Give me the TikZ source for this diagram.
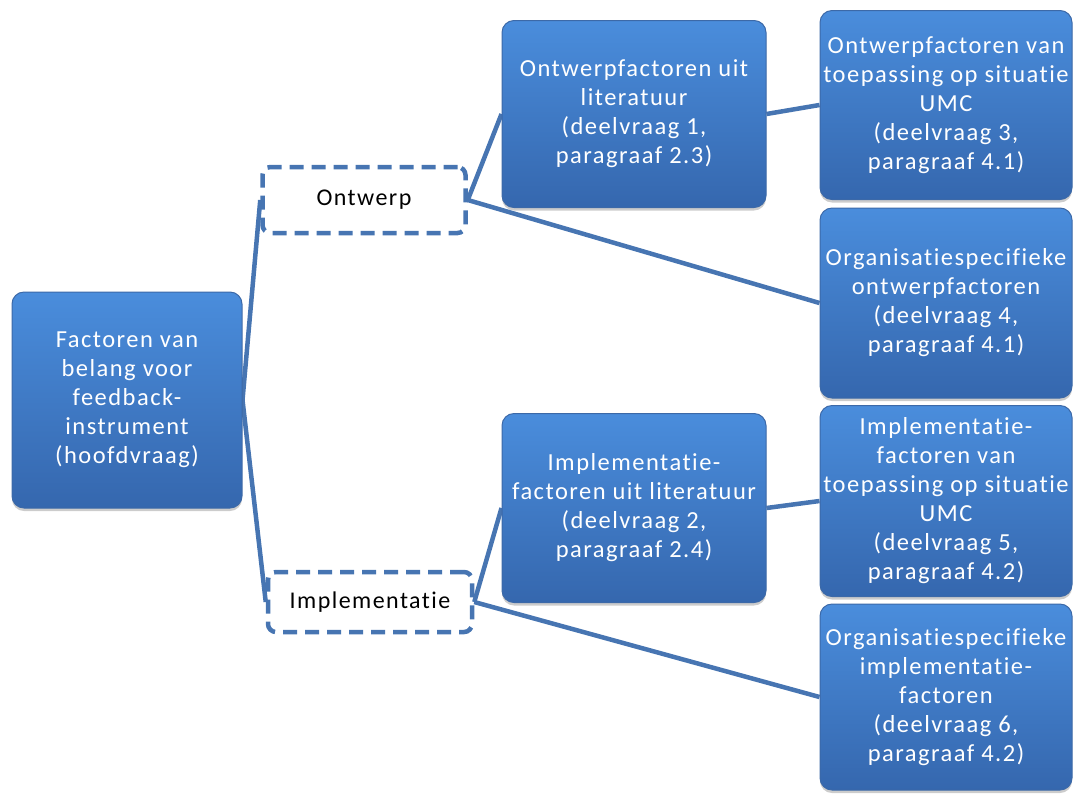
\documentclass[tikz,border=0pt]{standalone}
\usepackage{fontspec}
\setmainfont{Carlito}[LetterSpace=6, Ligatures={NoCommon,NoRare}]
\usetikzlibrary{backgrounds,shadows}

\definecolor{boxtop}{HTML}{4A8DDC}
\definecolor{boxbot}{HTML}{3567AE}
\definecolor{boxedge}{HTML}{3C69A8}
\definecolor{linkblue}{HTML}{4775B2}

\begin{document}
\begin{tikzpicture}[x=1pt,y=-1pt,
	bluebox/.style={rectangle, rounded corners=12pt, top color=boxtop, bottom color=boxbot,
		draw=boxedge, line width=1pt, text=white, align=center,
		drop shadow={opacity=0.4, shadow xshift=0pt, shadow yshift=-3pt},
		font=\fontsize{24.5}{29}\selectfont, inner sep=2pt},
	dashbox/.style={rectangle, rounded corners=8pt, draw=linkblue, line width=4.5pt,
		dash pattern=on 14pt off 8pt, fill=white, text=black,
		font=\fontsize{24}{29}\selectfont},
	link/.style={draw=linkblue, line width=4.5pt}]

	\useasboundingbox (0,0) rectangle (1075,793);

	% eerste kolom
	\node[bluebox, minimum width=230pt, minimum height=216pt] (root) at (127,400)
		{Factoren van\\belang voor\\feedback-\\instrument\\(hoofdvraag)};

	% tweede kolom
	\node[dashbox, minimum width=203pt, minimum height=66pt] (ontw) at (364,200) {Ontwerp};
	\node[dashbox, minimum width=204pt, minimum height=60pt] (impl) at (370,602) {Implementatie};

	% derde kolom
	\node[bluebox, minimum width=264pt, minimum height=187pt] (litontw) at (634,114)
		{Ontwerpfactoren uit\\literatuur\\(deelvraag 1,\\paragraaf 2.3)};
	\node[bluebox, minimum width=264pt, minimum height=189pt] (litimpl) at (634,508)
		{Implementatie-\\factoren uit literatuur\\(deelvraag 2,\\paragraaf 2.4)};

	% vierde kolom
	\node[bluebox, minimum width=252pt, minimum height=189pt] (umcontw) at (946,105)
		{Ontwerpfactoren van\\toepassing op situatie\\UMC\\(deelvraag 3,\\paragraaf 4.1)};
	\node[bluebox, minimum width=252pt, minimum height=190pt] (orgontw) at (946,303)
		{Organisatiespecifieke\\ontwerpfactoren\\(deelvraag 4,\\paragraaf 4.1)};
	\node[bluebox, minimum width=252pt, minimum height=191pt] (umcimpl) at (946,501)
		{Implementatie-\\factoren van\\toepassing op situatie\\UMC\\(deelvraag 5,\\paragraaf 4.2)};
	\node[bluebox, minimum width=252pt, minimum height=186pt] (orgimpl) at (946,697)
		{Organisatiespecifieke\\implementatie-\\factoren\\(deelvraag 6,\\paragraaf 4.2)};

	\begin{scope}[on background layer]
	\draw[link] (root.east) -- (ontw.west);
	\draw[link] (root.east) -- (impl.west);
	\draw[link] (ontw.east) -- (litontw.west);
	\draw[link] (ontw.east) -- (orgontw.west);
	\draw[link] (litontw.east) -- (umcontw.west);
	\draw[link] (impl.east) -- (litimpl.west);
	\draw[link] (impl.east) -- (orgimpl.west);
	\draw[link] (litimpl.east) -- (umcimpl.west);
	\end{scope}

\end{tikzpicture}
\end{document}
